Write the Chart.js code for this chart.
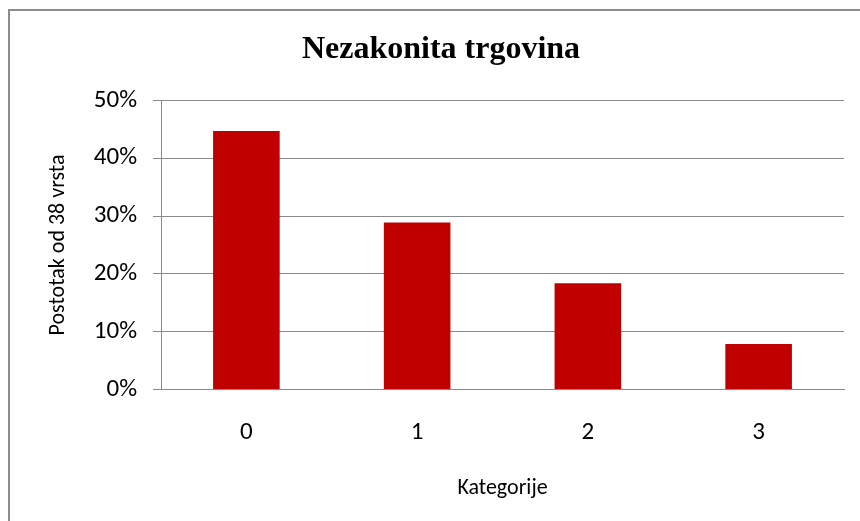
<!DOCTYPE html>
<html>
<head>
<meta charset="utf-8">
<script src="https://cdn.jsdelivr.net/npm/chart.js@4.4.0/dist/chart.umd.min.js"></script>
<style>
  html, body { margin: 0; padding: 0; background: #fff; }
  #wrap { position: relative; width: 860px; height: 521px; }
</style>
</head>
<body>
<div id="wrap"><canvas id="chart" width="860" height="521"></canvas></div>
<script>
const categories = ['0', '1', '2', '3'];
const shares = [44.7, 28.9, 18.4, 7.9]; // % of 38 species
const yTicks = [0, 10, 20, 30, 40, 50];

const font = 'Carlito, Lato, sans-serif';
const gridGrey = '#8a8a8a';

// outer frame like the office chart border (right/bottom sides run off the page)
const framePlugin = {
  id: 'frame',
  beforeDraw(chart) {
    const ctx = chart.ctx;
    ctx.save();
    ctx.strokeStyle = '#8c8c8c';
    ctx.lineWidth = 2;
    ctx.strokeRect(9, 10, 870, 530);
    ctx.restore();
  }
};

new Chart(document.getElementById('chart'), {
  type: 'bar',
  data: {
    labels: categories,
    datasets: [{
      data: shares,
      backgroundColor: '#C00000',
      categoryPercentage: 1,
      barPercentage: 0.39
    }]
  },
  plugins: [framePlugin],
  options: {
    responsive: false,
    animation: false,
    layout: { padding: { left: 38, right: 16, top: 0, bottom: 19 } },
    plugins: {
      legend: { display: false },
      tooltip: { enabled: false },
      title: {
        display: true,
        text: 'Nezakonita trgovina',
        color: '#000',
        font: { family: '"Liberation Serif", "Times New Roman", serif', size: 32, weight: 'bold' },
        padding: { top: 31, bottom: 31 }
      }
    },
    scales: {
      x: {
        grid: { display: false, drawTicks: false },
        border: { color: gridGrey, width: 1 },
        ticks: { color: '#000', font: { family: font, size: 25 }, padding: 28 },
        title: {
          display: true,
          text: 'Kategorije',
          color: '#000',
          font: { family: font, size: 22 },
          padding: { top: 0, bottom: 0 }
        }
      },
      y: {
        min: 0,
        max: 50,
        afterBuildTicks(scale) { scale.ticks = yTicks.map(v => ({ value: v })); },
        afterFit(scale) { scale.width = 123; },
        grid: { color: gridGrey, tickLength: 8, lineWidth: 1 },
        border: { color: gridGrey, width: 1 },
        ticks: {
          color: '#000',
          font: { family: font, size: 25 },
          padding: 16,
          callback: v => v + '%'
        },
        title: {
          display: true,
          text: 'Postotak od 38 vrsta',
          color: '#000',
          font: { family: font, size: 22 },
          padding: { top: 7, bottom: 4 }
        }
      }
    }
  }
});
</script>
</body>
</html>
